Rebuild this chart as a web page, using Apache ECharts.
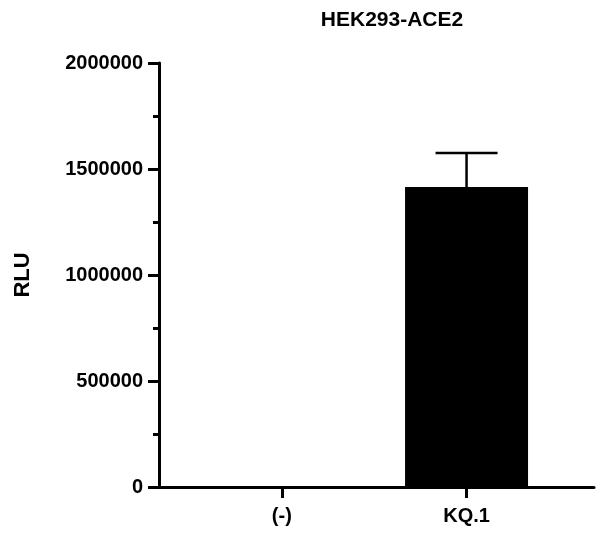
<!DOCTYPE html>
<html>
<head>
<meta charset="utf-8">
<script src="https://cdn.jsdelivr.net/npm/echarts@6/dist/echarts.min.js"></script>
<style>html,body{margin:0;padding:0;background:#fff;}#c{width:600px;height:544px;}</style>
</head>
<body>
<div id="c"></div>
<script>
const titleText = "HEK293-ACE2";
const yAxisName = "RLU";
const categories = ["(-)", "KQ.1"];
const means = [0, 1415000];
const errorTops = [0, 1575000];
const yTicks = [0, 500000, 1000000, 1500000, 2000000];

const chart = echarts.init(document.getElementById('c'), null, {renderer: 'canvas'});
const font = 'Liberation Sans, Arial, sans-serif';
const catIdx = categories.map((_, i) => i);

const option = {
  animation: false,
  backgroundColor: '#ffffff',
  title: {
    text: titleText, left: 387, top: 5, textAlign: 'center',
    textStyle: {fontFamily: font, fontWeight: 'bold', fontSize: 21, color: '#000'}
  },
  grid: {left: 159, right: 6, top: 63, bottom: 57},
  xAxis: {
    type: 'value', min: -0.665, max: 1.69,
    splitLine: {show: false},
    axisLine: {show: true, onZero: false, lineStyle: {color: '#000', width: 3}},
    axisTick: {show: true, customValues: catIdx, length: 11, lineStyle: {color: '#000', width: 3}},
    axisLabel: {customValues: catIdx, formatter: v => categories[Math.round(v)] || '', margin: 19,
      fontFamily: font, fontWeight: 'bold', fontSize: 20, color: '#000'}
  },
  yAxis: {
    type: 'value', min: 0, max: 2000000, interval: 500000,
    name: yAxisName, nameLocation: 'middle', nameRotate: 90, nameGap: 125,
    nameTextStyle: {fontFamily: font, fontWeight: 'bold', fontSize: 22, color: '#000'},
    splitLine: {show: false},
    axisLine: {show: true, onZero: false, lineStyle: {color: '#000', width: 3}},
    axisTick: {show: true, length: 11, lineStyle: {color: '#000', width: 3}},
    minorTick: {show: true, splitNumber: 2, length: 6, lineStyle: {color: '#000', width: 3}},
    axisLabel: {margin: 16, fontFamily: font, fontWeight: 'bold', fontSize: 20, color: '#000',
      customValues: yTicks, formatter: v => String(v)}
  },
  series: [
    {
      type: 'bar', barWidth: 123,
      itemStyle: {color: '#000'},
      data: means.map((v, i) => [i, v]),
      z: 2
    },
    {
      type: 'custom',
      z: 3,
      data: catIdx.map(i => [i, means[i], errorTops[i]]),
      renderItem: function (params, api) {
        const x = api.value(0), m = api.value(1), t = api.value(2);
        if (t <= m) return null;
        const p0 = api.coord([x, m]);
        const p1 = api.coord([x, t]);
        const hw = 31;
        return {
          type: 'group',
          children: [
            {type: 'line', shape: {x1: p0[0], y1: p0[1], x2: p1[0], y2: p1[1]}, style: {stroke: '#000', lineWidth: 2.5}},
            {type: 'line', shape: {x1: p1[0] - hw, y1: p1[1], x2: p1[0] + hw, y2: p1[1]}, style: {stroke: '#000', lineWidth: 2.5}}
          ]
        };
      }
    }
  ]
};
chart.setOption(option);
</script>
</body>
</html>
